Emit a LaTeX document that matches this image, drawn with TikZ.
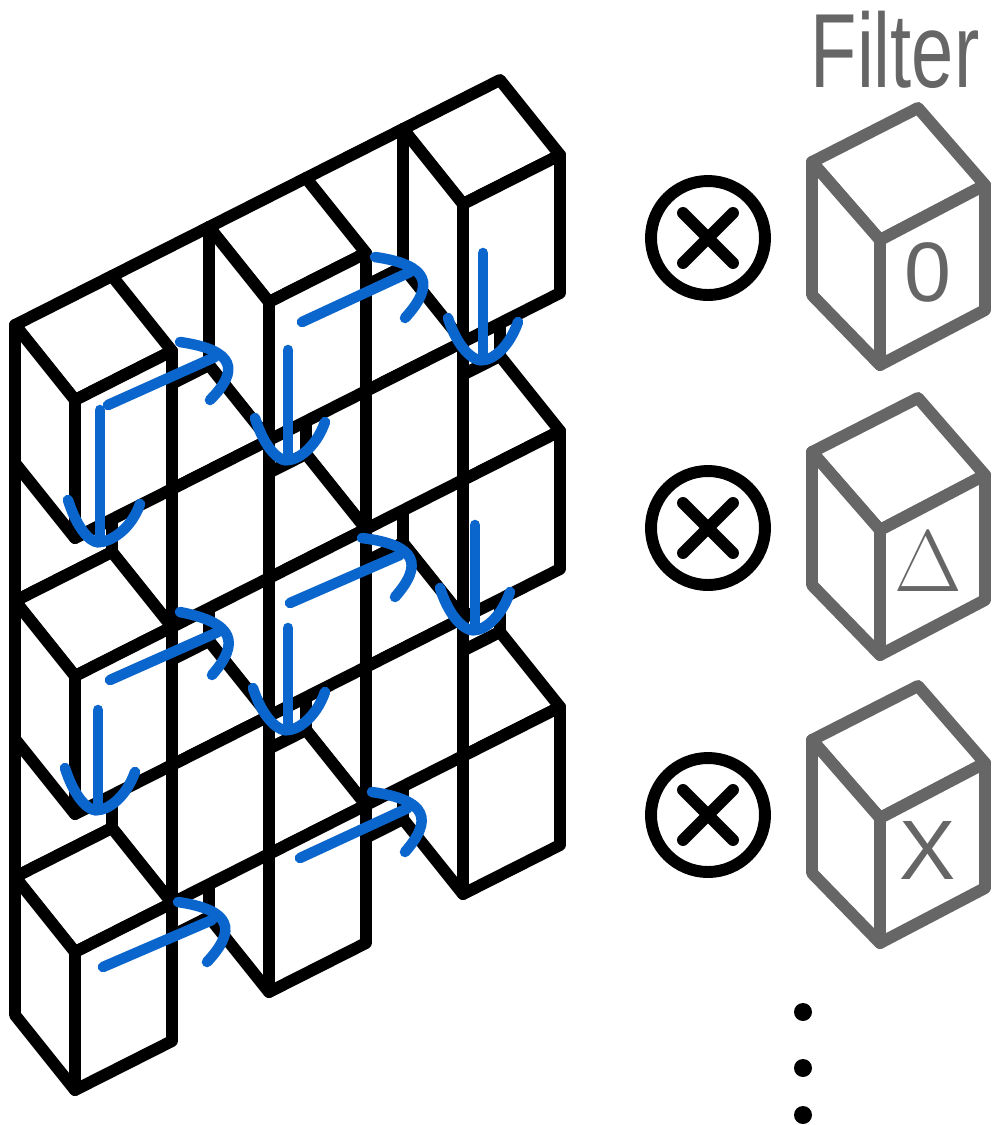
\documentclass[tikz,border=0pt]{standalone}
\usepackage{fontspec}
\setmainfont{Liberation Sans}
\begin{document}
\begin{tikzpicture}[x=1cm,y=1cm,
  edge/.style={line width=3.4pt,line join=round,line cap=round,fill=white},
  gedge/.style={line width=3.4pt,line join=round,line cap=round,fill=white,draw=fgray},
  blu/.style={line width=3pt,line cap=round,draw=fblue},
  opline/.style={line width=3.4pt,line cap=round}]
\definecolor{fblue}{HTML}{0A66CC}
\definecolor{fgray}{HTML}{666666}
\useasboundingbox (0,0) rectangle (10,-11.25);
\def\F#1#2{({0.75+0.97*(#1)},{-(4.00-0.49*(#1)+1.38*(#2))})}
\def\B#1#2{({0.15+0.97*(#1)},{-(3.25-0.49*(#1)+1.38*(#2))})}
% recessed faces (back plane)
\foreach \i in {0,...,4}{\foreach \j in {0,...,4}{
  \pgfmathtruncatemacro\p{mod(\i+\j,2)}
  \ifnum\p=1
    \draw[edge] \B{\i}{\j} -- \B{\i+1}{\j} -- \B{\i+1}{\j+1} -- \B{\i}{\j+1} -- cycle;
  \fi}}
% protruding cubes
\foreach \i in {4,3,...,0}{\foreach \j in {0,...,4}{
  \pgfmathtruncatemacro\p{mod(\i+\j,2)}
  \ifnum\p=0
    \draw[edge] \F{\i}{\j} -- \B{\i}{\j} -- \B{\i+1}{\j} -- \F{\i+1}{\j} -- cycle;
    \draw[edge] \F{\i}{\j} -- \B{\i}{\j} -- \B{\i}{\j+1} -- \F{\i}{\j+1} -- cycle;
    \draw[edge] \F{\i}{\j} -- \F{\i+1}{\j} -- \F{\i+1}{\j+1} -- \F{\i}{\j+1} -- cycle;
  \fi}}
% blue arrows: right
\foreach \a/\b/\c/\d/\e/\f/\g/\h/\k/\l in {
 1.08/4.05/2.15/3.57/1.80/3.42/2.35/3.55/2.10/4.00,
 3.02/3.22/4.10/2.72/3.75/2.57/4.30/2.70/4.05/3.18,
 2.90/6.03/4.00/5.55/3.62/5.38/4.18/5.50/3.95/5.97,
 1.10/6.80/2.18/6.32/1.80/6.12/2.35/6.28/2.12/6.75,
 3.00/8.58/4.08/8.08/3.72/7.92/4.28/8.05/4.05/8.52,
 1.03/9.67/2.12/9.20/1.78/9.02/2.32/9.15/2.07/9.62}{
 \draw[blu] (\a,-\b) -- (\c,-\d);
 \draw[blu] (\e,-\f) .. controls (\g,-\h+0.05) and (\g+0.05,-\h-0.15) .. (\k,-\l);}
% blue arrows: down
\foreach \x/\t/\bt/\l/\r in {1.00/4.10/5.42/0.68/1.40, 2.88/3.50/4.60/2.55/3.25,
 4.83/2.53/3.60/4.48/5.18, 4.75/5.25/6.30/4.40/5.10, 2.88/6.28/7.30/2.53/3.25,
 0.98/7.10/8.10/0.65/1.35}{
 \draw[blu] (\x,-\t) -- (\x,-\bt);
 \draw[blu] (\l,-\bt+0.42) .. controls (\l+0.12,-\bt+0.05) and (\x-0.05,-\bt-0.02) .. (\x,-\bt)
   .. controls (\x+0.08,-\bt+0.0) and (\r-0.1,-\bt+0.1) .. (\r,-\bt+0.38);}
% operators
\foreach \y [count=\n] in {2.38,5.28,8.15}{
 \node[circle,draw,line width=3.4pt,minimum size=1.14cm,inner sep=0pt] (op\n) at (7.08,-\y) {};}
\foreach \n in {1,2,3}{
 \draw[opline] ([shift={(-0.25,0.25)}]op\n.center) -- ([shift={(0.25,-0.25)}]op\n.center);
 \draw[opline] ([shift={(-0.25,-0.25)}]op\n.center) -- ([shift={(0.25,0.25)}]op\n.center);}
% filter cubes
\foreach \dy/\lab [count=\n] in {0/0, 2.90/$\Delta$, 5.78/X}{
 \begin{scope}[yshift=-\dy cm]
  \draw[gedge] (8.12,-1.62) -- (9.18,-1.08) -- (9.85,-1.85) -- (8.80,-2.40) -- cycle;
  \draw[gedge] (8.12,-1.62) -- (8.80,-2.40) -- (8.80,-3.65) -- (8.12,-2.95) -- cycle;
  \draw[gedge] (8.80,-2.40) -- (9.85,-1.85) -- (9.85,-3.10) -- (8.80,-3.65) -- cycle;
  \node[text=fgray,font=\fontsize{24}{26}\selectfont] (lab\n) at (9.28,-2.72) {\lab};
 \end{scope}}
\node[text=fgray,font=\fontsize{30}{34}\selectfont,xscale=0.72,inner sep=0pt] (title) at (8.95,-0.50) {Filter};
\foreach \y [count=\n] in {10.12,10.68,11.15}{
 \fill (8.03,-\y) circle (0.09) coordinate (dot\n);}
\end{tikzpicture}
\end{document}
